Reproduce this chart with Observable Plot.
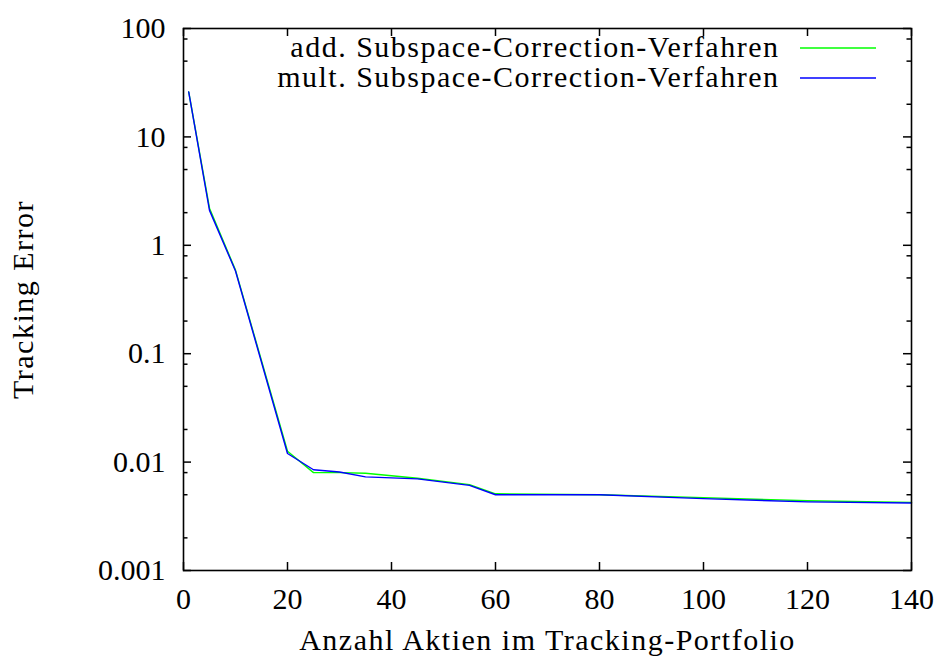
<!DOCTYPE html>
<html><head><meta charset="utf-8">
<script src="https://cdn.jsdelivr.net/npm/d3@7"></script>
<script src="https://cdn.jsdelivr.net/npm/@observablehq/plot@0.6"></script>
<style>
html,body{margin:0;padding:0;background:#fff}
#chart svg, #chart svg text{font-family:"Liberation Serif","DejaVu Serif",serif !important;}
#chart svg g.lbl text{letter-spacing:1.5px}
</style></head><body><div id="chart"></div>
<script>
// ---- data ----
const portfolioSize = [1, 5, 10, 20, 25, 30, 35, 45, 55, 60, 80, 100, 120, 140];
const addError  = [26, 2.2, 0.59, 0.0126, 0.0080, 0.0080, 0.0079, 0.0071, 0.0062, 0.0051, 0.0050, 0.0047, 0.0044, 0.00425];
const multError = [26, 2.1, 0.58, 0.0120, 0.0085, 0.0081, 0.0073, 0.0070, 0.0061, 0.0050, 0.0050, 0.0046, 0.0043, 0.0042];
const seriesNames = ["add. Subspace-Correction-Verfahren", "mult. Subspace-Correction-Verfahren"];
const seriesColors = ["#00ff00", "#0000ff"];
const yMajorTicks = [0.001, 0.01, 0.1, 1, 10, 100];
const yTickLabels = ["0.001", "0.01", "0.1", "1", "10", "100"];
const yMinorTicks = [0.002, 0.005, 0.008, 0.02, 0.05, 0.08, 0.2, 0.5, 0.8, 2, 5, 8, 20, 50, 80];
const xTicks = [0, 20, 40, 60, 80, 100, 120, 140];
const xLabel = "Anzahl Aktien im Tracking-Portfolio";
const yLabel = "Tracking Error";

// ---- layout ----
const width = 944, height = 660;
const mL = 183, mR = 33, mT = 28, mB = 90;
const W = width - mL - mR, H = height - mT - mB;
const fs = 30;
const ff = "Liberation Serif, DejaVu Serif, serif";

const rows = [];
seriesNames.forEach((name, i) => {
  const vals = i === 0 ? addError : multError;
  portfolioSize.forEach((x, j) => rows.push({series: name, x, y: vals[j]}));
});

const legendRowDy = [20, 50];

const chart = Plot.plot({
  width, height,
  marginLeft: mL, marginRight: mR, marginTop: mT, marginBottom: mB,
  x: {domain: [0, 140]},
  y: {type: "log", domain: [0.001, 100]},
  style: {fontSize: fs + "px", fontFamily: ff, color: "#000", background: "#fff"},
  marks: [
    Plot.line(rows, {x: "x", y: "y", z: "series", stroke: d => seriesColors[seriesNames.indexOf(d.series)], strokeWidth: 1.4}),
    // inward ticks, mirrored
    Plot.tickY(yMajorTicks, {y: d => d, insetRight: W - 8, stroke: "#000", strokeWidth: 1.5}),
    Plot.tickY(yMajorTicks, {y: d => d, insetLeft: W - 8, stroke: "#000", strokeWidth: 1.5}),
    Plot.tickY(yMinorTicks, {y: d => d, insetRight: W - 4.5, stroke: "#000", strokeWidth: 1.5}),
    Plot.tickY(yMinorTicks, {y: d => d, insetLeft: W - 4.5, stroke: "#000", strokeWidth: 1.5}),
    Plot.tickX(xTicks, {x: d => d, insetTop: H - 8, stroke: "#000", strokeWidth: 1.5}),
    Plot.tickX(xTicks, {x: d => d, insetBottom: H - 8, stroke: "#000", strokeWidth: 1.5}),
    Plot.frame({stroke: "#000", strokeWidth: 1.6}),
    Plot.axisY({ticks: yMajorTicks, tickSize: 0, tickPadding: 18, tickFormat: d => yTickLabels[yMajorTicks.indexOf(d)], label: null, fontSize: fs}),
    Plot.axisX({ticks: xTicks, tickSize: 0, tickPadding: 17, tickFormat: d => String(d), label: null, fontSize: fs}),
    Plot.text([xLabel], {text: d => d, frameAnchor: "bottom", lineAnchor: "middle", dy: 70, fontSize: fs, fill: "#000", className: "lbl"}),
    Plot.text([yLabel], {text: d => d, frameAnchor: "left", textAnchor: "middle", lineAnchor: "middle", rotate: -90, dx: -160, fontSize: fs, fill: "#000", className: "lbl"}),
    ...seriesNames.map((name, i) =>
      Plot.text([name], {text: d => d, frameAnchor: "top-right", textAnchor: "end", lineAnchor: "middle", dx: -132, dy: legendRowDy[i] - 1, fontSize: fs, fill: "#000", className: "lbl"}))
  ]
});
document.getElementById("chart").appendChild(chart);

// legend line samples
const svg = d3.select(chart);
seriesColors.forEach((c, i) => {
  svg.append("line")
    .attr("x1", 800).attr("x2", 876)
    .attr("y1", mT + legendRowDy[i]).attr("y2", mT + legendRowDy[i])
    .attr("stroke", c).attr("stroke-width", 1.4);
});
</script></body></html>
